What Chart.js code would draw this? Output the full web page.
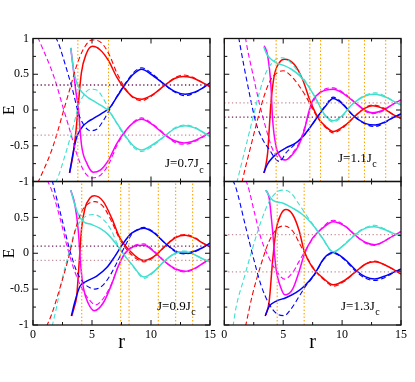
<!DOCTYPE html>
<html>
<head>
<meta charset="utf-8">
<script src="https://cdn.jsdelivr.net/npm/chart.js@4.4.1/dist/chart.umd.min.js"></script>
<style>
  body { margin: 0; background: #fff; }
  canvas { position: absolute; left: 0; top: 0; }
</style>
</head>
<body>
<canvas id="c1" width="415" height="382"></canvas>
<canvas id="c2" width="415" height="382"></canvas>
<canvas id="c3" width="415" height="382"></canvas>
<canvas id="c4" width="415" height="382"></canvas>
<script>
// ---- data: [r, E] ----
// J = 0.7 Jc
const p1RedSolid = [[3.1,-0.88],[3.4,-0.62],[3.65,-0.28],[3.85,0.1],[4.1,0.52],[4.5,0.78],[5.05,0.89],[5.7,0.84],[6.4,0.69],[7.1,0.46],[7.8,0.29],[8.5,0.18],[9.2,0.15],[10,0.2],[11.2,0.35],[12,0.44],[12.7,0.47],[13.5,0.45],[14.3,0.39],[15,0.33]];
const p1BlueSolid = [[3.1,-0.88],[3.4,-0.6],[3.6,-0.44],[3.8,-0.34],[4.2,-0.23],[4.7,-0.16],[5.1,-0.12],[5.8,-0.05],[6.5,0.03],[7.1,0.18],[7.9,0.38],[8.5,0.5],[9.2,0.57],[10,0.5],[11.2,0.35],[12,0.26],[12.9,0.22],[13.7,0.25],[14.4,0.31],[15,0.38]];
const p1MagentaSolid = [[3.2,0.87],[3.42,0.57],[3.6,0.3],[3.84,0.03],[4.12,-0.5],[4.55,-0.74],[5.1,-0.87],[5.7,-0.84],[6.4,-0.7],[7.1,-0.47],[7.8,-0.3],[8.5,-0.18],[9.2,-0.13],[10,-0.19],[11.2,-0.35],[12,-0.43],[12.8,-0.46],[13.5,-0.44],[14.3,-0.38],[15,-0.31]];
const p1CyanSolid = [[3.2,0.87],[3.42,0.58],[3.6,0.44],[3.8,0.34],[4.2,0.24],[4.7,0.17],[5.1,0.13],[5.8,0.06],[6.5,-0.03],[7.1,-0.18],[7.9,-0.38],[8.5,-0.5],[9.2,-0.56],[10,-0.5],[11.2,-0.36],[12,-0.26],[12.9,-0.22],[13.7,-0.25],[14.4,-0.31],[15,-0.37]];
const p1RedDash = [[0.4,-1.02],[1,-0.8],[1.5,-0.6],[2,-0.35],[2.5,-0.06],[3.1,0.28],[3.7,0.62],[4.3,0.86],[5,0.98],[5.8,0.94],[6.5,0.76],[7.1,0.52],[7.8,0.31],[8.5,0.17],[9.2,0.13],[10,0.19],[11.2,0.35],[12,0.45],[12.7,0.49],[13.5,0.46],[14.3,0.39],[15,0.32]];
const p1MagentaDash = [[0.4,1.02],[1,0.79],[1.5,0.59],[2,0.35],[2.5,0.06],[3.1,-0.27],[3.7,-0.61],[4.3,-0.85],[5,-0.95],[5.8,-0.9],[6.5,-0.73],[7.1,-0.5],[7.8,-0.31],[8.5,-0.17],[9.2,-0.11],[10,-0.18],[11.2,-0.34],[12,-0.45],[12.8,-0.48],[13.6,-0.45],[14.3,-0.39],[15,-0.31]];
const p1BlueDash = [[1.9,1.02],[2.14,0.94],[2.85,0.57],[3.42,0.24],[3.84,-0.04],[4.27,-0.2],[4.85,-0.29],[5.4,-0.27],[5.96,-0.15],[6.47,0],[7.1,0.19],[7.9,0.39],[8.5,0.52],[9.2,0.59],[10,0.52],[11.2,0.35],[12,0.25],[12.9,0.2],[13.7,0.24],[14.4,0.31],[15,0.38]];
const p1CyanDash = [[1.9,-1.02],[2.14,-0.93],[2.85,-0.56],[3.42,-0.23],[3.84,0.05],[4.27,0.2],[4.85,0.29],[5.4,0.28],[5.96,0.16],[6.47,0],[7.1,-0.19],[7.9,-0.39],[8.5,-0.52],[9.2,-0.58],[10,-0.52],[11.2,-0.36],[12,-0.25],[12.9,-0.21],[13.7,-0.24],[14.4,-0.31],[15,-0.37]];
const p1Levels = [0.35, -0.35];
const p1Marks = [3.8, 6.4];

// J = 1.1 Jc
const p2RedSolid = [[3.39,-0.88],[3.68,-0.6],[3.8,-0.3],[3.96,0.1],[4.24,0.48],[4.66,0.66],[5.1,0.71],[5.93,0.64],[6.64,0.43],[7.35,0.1],[8.05,-0.13],[8.6,-0.23],[9.24,-0.3],[10.2,-0.22],[11.2,-0.07],[12,0.03],[12.6,0.06],[13.5,0.02],[14.3,-0.06],[15,-0.12]];
const p2BlueSolid = [[3.34,-0.88],[3.6,-0.78],[3.81,-0.72],[4.38,-0.62],[5.23,-0.53],[6.08,-0.46],[6.92,-0.32],[7.77,-0.13],[8.62,0.06],[9.24,0.16],[10,0.09],[10.9,-0.07],[12,-0.19],[12.8,-0.21],[13.6,-0.17],[14.4,-0.1],[15,-0.06]];
const p2MagentaSolid = [[3.39,0.9],[3.68,0.76],[3.96,0.34],[4.1,-0.13],[4.38,-0.5],[4.8,-0.67],[5.17,-0.7],[5.8,-0.62],[6.3,-0.5],[6.8,-0.28],[7.1,-0.07],[7.5,0.13],[8.2,0.25],[9.24,0.29],[10.2,0.22],[11.2,0.09],[12,-0.01],[12.6,-0.04],[13.5,0],[14.3,0.08],[15,0.14]];
const p2CyanSolid = [[3.35,0.88],[3.6,0.78],[3.9,0.72],[4.4,0.66],[5.1,0.62],[5.7,0.57],[6.4,0.48],[7.1,0.34],[7.8,0.15],[8.5,-0.06],[9.24,-0.15],[10,-0.08],[10.8,0.07],[12,0.2],[12.8,0.22],[13.7,0.18],[14.4,0.12],[15,0.07]];
const p2RedDash = [[1.5,-1.02],[1.56,-0.97],[2.26,-0.5],[2.83,-0.13],[3.39,0.2],[3.96,0.43],[4.5,0.52],[5,0.55],[5.65,0.48],[6.3,0.35],[7,0.17],[7.6,-0.02],[8.2,-0.17],[8.7,-0.26],[9.24,-0.32],[10.2,-0.23],[11.2,-0.07],[12,0.04],[12.6,0.07],[13.5,0.03],[14.3,-0.06],[15,-0.12]];
const p2BlueDash = [[1.22,1.02],[1.27,0.97],[2.12,0.24],[2.69,-0.18],[3.25,-0.41],[3.81,-0.55],[4.38,-0.69],[4.7,-0.72],[5.23,-0.6],[6,-0.48],[6.92,-0.33],[7.77,-0.13],[8.62,0.07],[9.24,0.18],[10,0.1],[10.9,-0.07],[12,-0.2],[12.8,-0.23],[13.6,-0.18],[14.4,-0.1],[15,-0.05]];
const p2MagentaDash = [[1.8,1.02],[1.84,0.97],[2.4,0.52],[2.97,0.1],[3.56,-0.27],[4.1,-0.55],[4.8,-0.69],[5.2,-0.7],[5.8,-0.6],[6.4,-0.44],[7,-0.15],[7.5,0.1],[8.2,0.26],[9.24,0.31],[10.2,0.23],[11.2,0.09],[12,-0.02],[12.6,-0.05],[13.5,-0.01],[14.3,0.08],[15,0.14]];
const p2CyanDash = [[1.05,-1.02],[1.13,-0.97],[1.84,-0.5],[2.4,-0.13],[2.97,0.24],[3.53,0.52],[4.24,0.69],[4.95,0.73],[5.6,0.67],[6.3,0.53],[7.1,0.35],[7.8,0.15],[8.5,-0.07],[9.24,-0.17],[10,-0.09],[10.8,0.07],[12,0.21],[12.8,0.24],[13.7,0.19],[14.4,0.12],[15,0.07]];
const p2Levels = [0.1, -0.1];
const p2Marks = [4.4, 7.26, 8.17, 10.57, 11.9, 13.7];

// J = 0.9 Jc
const p3RedSolid = [[3.28,-0.875],[3.5,-0.75],[3.7,-0.6],[3.92,-0.11],[4.12,0.35],[4.41,0.63],[4.83,0.77],[5.2,0.8],[5.96,0.72],[6.67,0.49],[7.37,0.21],[8.22,0.03],[8.93,-0.07],[9.4,-0.1],[10.2,-0.05],[11.2,0.1],[12.1,0.22],[12.9,0.25],[13.7,0.21],[14.4,0.14],[15,0.09]];
const p3BlueSolid = [[3.25,-0.875],[3.56,-0.67],[3.98,-0.46],[4.55,-0.39],[5.4,-0.32],[6.25,-0.2],[6.95,-0.04],[7.65,0.14],[8.36,0.28],[9.07,0.34],[9.4,0.35],[10.2,0.29],[11.2,0.14],[12.1,0.03],[12.9,0],[13.7,0.03],[14.4,0.08],[15,0.14]];
const p3MagentaSolid = [[3.2,0.88],[3.56,0.67],[3.84,0.31],[4.04,-0.16],[4.27,-0.48],[4.69,-0.7],[5.2,-0.8],[5.96,-0.69],[6.67,-0.43],[7.23,-0.18],[7.8,0],[8.5,0.09],[9.4,0.11],[10.2,0.03],[11.2,-0.12],[12.1,-0.22],[12.9,-0.25],[13.7,-0.21],[14.4,-0.14],[15,-0.08]];
const p3CyanSolid = [[3.2,0.88],[3.5,0.7],[3.84,0.54],[4.27,0.44],[4.97,0.4],[5.65,0.35],[6.38,0.26],[7.09,0.12],[7.8,-0.04],[8.5,-0.18],[9.07,-0.3],[9.4,-0.33],[10.2,-0.26],[11.2,-0.1],[12.1,0],[12.9,0.02],[13.7,-0.02],[14.4,-0.08],[15,-0.12]];
const p3RedDash = [[1.15,-1.02],[1.58,-0.85],[2.29,-0.48],[3,-0.07],[3.56,0.31],[4.12,0.58],[4.69,0.69],[5.25,0.72],[5.96,0.65],[6.67,0.44],[7.37,0.19],[8.22,0],[9,-0.1],[9.4,-0.12],[10.2,-0.06],[11.2,0.1],[12.1,0.23],[12.9,0.26],[13.7,0.22],[14.4,0.14],[15,0.09]];
const p3BlueDash = [[1.62,1.02],[1.86,0.86],[2.57,0.4],[3.14,0.03],[3.7,-0.25],[4.27,-0.41],[4.83,-0.48],[5.25,-0.5],[5.96,-0.44],[6.67,-0.27],[7.23,-0.09],[7.8,0.1],[8.4,0.27],[9.07,0.35],[9.4,0.36],[10.2,0.3],[11.2,0.14],[12.1,0.02],[12.9,-0.01],[13.7,0.02],[14.4,0.08],[15,0.14]];
const p3MagentaDash = [[1.2,1.02],[1.58,0.88],[2.29,0.49],[2.85,0.12],[3.42,-0.2],[4.12,-0.48],[4.83,-0.66],[5.3,-0.72],[6,-0.62],[6.67,-0.42],[7.23,-0.18],[7.8,0],[8.5,0.1],[9.4,0.13],[10.2,0.04],[11.2,-0.12],[12.1,-0.23],[12.9,-0.26],[13.7,-0.22],[14.4,-0.14],[15,-0.08]];
const p3CyanDash = [[1.62,-1.02],[2,-0.75],[2.43,-0.39],[3,-0.02],[3.56,0.31],[4.27,0.49],[5.11,0.54],[5.96,0.47],[6.67,0.31],[7.09,0.15],[7.8,-0.04],[8.5,-0.19],[9.07,-0.31],[9.4,-0.35],[10.2,-0.27],[11.2,-0.1],[12.1,0.01],[12.9,0.03],[13.7,-0.02],[14.4,-0.08],[15,-0.12]];
const p3Levels = [0.1, -0.1];
const p3Marks = [4.13, 7.43, 8.14, 10.62, 12.09, 13.53];

// J = 1.3 Jc
const p4RedSolid = [[3.53,-0.86],[3.81,-0.67],[4.1,-0.11],[4.38,0.31],[4.8,0.54],[5.23,0.61],[5.8,0.54],[6.36,0.31],[6.78,0.03],[7.49,-0.2],[8.34,-0.34],[9.24,-0.44],[10.2,-0.38],[11.2,-0.25],[12,-0.15],[12.77,-0.12],[13.6,-0.16],[14.3,-0.22],[15,-0.29]];
const p4BlueSolid = [[3.47,-0.875],[3.81,-0.74],[4.38,-0.67],[5.23,-0.62],[6.08,-0.55],[6.78,-0.46],[7.63,-0.3],[8.47,-0.07],[9.24,0.01],[10.2,-0.08],[11.2,-0.24],[12,-0.33],[12.77,-0.36],[13.6,-0.32],[14.3,-0.27],[15,-0.22]];
const p4MagentaSolid = [[3.53,0.88],[3.81,0.77],[4.1,0.31],[4.38,-0.2],[4.8,-0.48],[5.17,-0.58],[5.8,-0.5],[6.36,-0.25],[6.78,-0.02],[7.49,0.21],[8.34,0.35],[9.24,0.44],[10.2,0.38],[11.2,0.24],[12,0.15],[12.77,0.12],[13.6,0.17],[14.3,0.24],[15,0.3]];
const p4CyanSolid = [[3.53,0.88],[3.81,0.8],[4.1,0.74],[4.95,0.7],[5.8,0.63],[6.64,0.54],[7.49,0.4],[8.34,0.21],[9.24,0.02],[10.2,0.12],[11.2,0.27],[12,0.35],[12.77,0.37],[13.6,0.33],[14.3,0.28],[15,0.24]];
const p4RedDash = [[1.8,-1.02],[2.4,-0.57],[3.11,-0.16],[3.81,0.17],[4.52,0.35],[5.08,0.38],[5.8,0.31],[6.5,0.1],[7.2,-0.11],[7.9,-0.28],[8.6,-0.39],[9.24,-0.46],[10.2,-0.39],[11.2,-0.25],[12,-0.15],[12.77,-0.11],[13.6,-0.16],[14.3,-0.22],[15,-0.29]];
const p4BlueDash = [[0.72,1.02],[0.99,0.91],[1.84,0.35],[2.4,-0.02],[3.11,-0.44],[3.81,-0.71],[4.52,-0.85],[5.08,-0.87],[5.65,-0.78],[6.36,-0.6],[6.9,-0.46],[7.63,-0.31],[8.47,-0.08],[9.24,0],[10.2,-0.09],[11.2,-0.26],[12,-0.35],[12.77,-0.38],[13.6,-0.34],[14.3,-0.28],[15,-0.22]];
const p4MagentaDash = [[1.8,1.02],[1.98,0.95],[2.54,0.58],[3.11,0.21],[3.81,-0.07],[4.52,-0.27],[5.1,-0.36],[5.8,-0.27],[6.36,-0.11],[6.92,0.05],[7.5,0.2],[8.34,0.36],[9.24,0.46],[10.2,0.39],[11.2,0.24],[12,0.14],[12.77,0.11],[13.6,0.17],[14.3,0.24],[15,0.3]];
const p4CyanDash = [[0.74,-1.02],[0.99,-0.76],[1.69,-0.34],[2.4,0.07],[3.11,0.44],[3.81,0.72],[4.52,0.86],[5.08,0.88],[5.65,0.84],[6.36,0.68],[6.92,0.54],[7.49,0.41],[8.34,0.21],[9.24,0.01],[10.2,0.13],[11.2,0.28],[12,0.36],[12.77,0.39],[13.6,0.34],[14.3,0.28],[15,0.24]];
const p4Levels = [0.26, -0.26];
const p4Marks = [4.49, 6.78];

const xTicks = [0, 5, 10, 15];
const yTicks = [-1, -0.5, 0, 0.5, 1];

// ---- styling ----
const SERIF = "'Liberation Serif', 'Times New Roman', serif";
const RED = '#ff0000', BLUE = '#0000ff', CYAN = '#40e0d0', MAGENTA = '#ff00ff';
const DARK_DOT = '#70205e', LIGHT_DOT = '#c8909a', ORANGE = '#ffa500';

function curve(pts, color, dashed) {
    return {
        data: pts.map(function(p) { return { x: p[0], y: p[1] }; }),
        borderColor: color,
        borderWidth: dashed ? 1.1 : 1.5,
        borderDash: dashed ? [5, 3] : [],
        pointRadius: 0,
        cubicInterpolationMode: 'monotone',
        fill: false
    };
}

function level(e, color) {
    return {
        data: [{ x: 0, y: e }, { x: 15, y: e }],
        borderColor: color, borderWidth: 1.3, borderDash: [1.3, 2.5],
        pointRadius: 0, tension: 0
    };
}

function mark(r) {
    return {
        data: [{ x: r, y: -1 }, { x: r, y: 1 }],
        borderColor: ORANGE, borderWidth: 1.1, borderDash: [1.5, 2],
        pointRadius: 0, tension: 0
    };
}

// frame, inward ticks and the J label
const framePlugin = {
    id: 'frame',
    afterDraw: function(chart, args, opts) {
        const ctx = chart.ctx, a = chart.chartArea;
        const x = chart.scales.x, y = chart.scales.y;
        ctx.save();
        ctx.strokeStyle = '#111';
        ctx.lineWidth = 1;
        ctx.beginPath();
        x.ticks.forEach(function(t) {
            const px = x.getPixelForValue(t.value);
            const len = xTicks.indexOf(t.value) >= 0 ? 5 : 3;
            ctx.moveTo(px, a.bottom); ctx.lineTo(px, a.bottom - len);
            ctx.moveTo(px, a.top); ctx.lineTo(px, a.top + len);
        });
        y.ticks.forEach(function(t) {
            const py = y.getPixelForValue(t.value);
            const len = yTicks.indexOf(t.value) >= 0 ? 5 : 3;
            ctx.moveTo(a.left, py); ctx.lineTo(a.left + len, py);
            ctx.moveTo(a.right, py); ctx.lineTo(a.right - len, py);
        });
        ctx.stroke();
        ctx.lineWidth = 1.3;
        ctx.strokeRect(a.left, a.top, a.right - a.left, a.bottom - a.top);

        ctx.fillStyle = '#000';
        ctx.textBaseline = 'alphabetic';
        ctx.font = '13px ' + SERIF;
        ctx.fillText(opts.text, opts.tx, opts.ty);
        const w = ctx.measureText(opts.text).width;
        ctx.font = '10px ' + SERIF;
        ctx.fillText('c', opts.tx + w + 0.5, opts.ty + 5.5);
        ctx.restore();
    }
};

function makePanel(id, area, curves, levels, levelColors, marks, showX, showY, hideTopY, label) {
    const yW = showY ? 33 : 0;
    const xH = showX ? 30 : 0;
    const datasets = [];
    marks.forEach(function(r) { datasets.push(mark(r)); });
    levels.forEach(function(e, i) { datasets.push(level(e, levelColors[i])); });
    curves.forEach(function(c) { datasets.push(c); });

    new Chart(document.getElementById(id), {
        type: 'line',
        data: { datasets: datasets },
        options: {
            responsive: false,
            animation: false,
            devicePixelRatio: 1,
            layout: {
                padding: {
                    left: area.left - yW,
                    top: area.top,
                    right: 415 - area.right,
                    bottom: 382 - area.bottom - xH
                }
            },
            plugins: {
                legend: { display: false },
                tooltip: { enabled: false },
                frame: label
            },
            scales: {
                x: {
                    type: 'linear', min: 0, max: 15,
                    afterFit: function(s) { s.height = xH; },
                    grid: { display: false, drawTicks: false },
                    border: { display: false },
                    ticks: {
                        display: showX, stepSize: 2.5, autoSkip: false, maxRotation: 0, padding: 3,
                        color: '#000', font: { family: SERIF, size: 12 },
                        callback: function(v) { return xTicks.indexOf(v) >= 0 ? String(v) : ''; }
                    },
                    title: {
                        display: showX, text: 'r', color: '#000', padding: 0,
                        font: { family: SERIF, size: 20 }
                    }
                },
                y: {
                    type: 'linear', min: -1, max: 1,
                    afterFit: function(s) { s.width = yW; },
                    grid: { display: false, drawTicks: false },
                    border: { display: false },
                    ticks: {
                        display: showY, stepSize: 0.25, autoSkip: false, padding: 4,
                        color: '#000', font: { family: SERIF, size: 12 },
                        callback: function(v) {
                            if (hideTopY && v === 1) return '';
                            return yTicks.indexOf(v) >= 0 ? String(v) : '';
                        }
                    },
                    title: {
                        display: showY, text: 'E', color: '#000', padding: 0,
                        font: { family: SERIF, size: 16 }
                    }
                }
            }
        },
        plugins: [framePlugin]
    });
}

document.addEventListener('DOMContentLoaded', function() {
    // J=0.7Jc (top left)
    makePanel('c1', { left: 33, top: 38.5, right: 210, bottom: 181.5 },
        [curve(p1RedDash, RED, true), curve(p1BlueDash, BLUE, true), curve(p1CyanDash, CYAN, true), curve(p1MagentaDash, MAGENTA, true),
         curve(p1CyanSolid, CYAN, false), curve(p1MagentaSolid, MAGENTA, false), curve(p1BlueSolid, BLUE, false), curve(p1RedSolid, RED, false)],
        p1Levels, [DARK_DOT, LIGHT_DOT], p1Marks, false, true, false,
        { text: 'J=0.7J', tx: 165, ty: 167 });

    // J=1.1Jc (top right)
    makePanel('c2', { left: 224.3, top: 38.5, right: 401, bottom: 181.5 },
        [curve(p2RedDash, RED, true), curve(p2BlueDash, BLUE, true), curve(p2CyanDash, CYAN, true), curve(p2MagentaDash, MAGENTA, true),
         curve(p2CyanSolid, CYAN, false), curve(p2MagentaSolid, MAGENTA, false), curve(p2BlueSolid, BLUE, false), curve(p2RedSolid, RED, false)],
        p2Levels, [LIGHT_DOT, DARK_DOT], p2Marks, false, false, false,
        { text: 'J=1.1J', tx: 338, ty: 161.5 });

    // J=0.9Jc (bottom left)
    makePanel('c3', { left: 33, top: 181.5, right: 210, bottom: 325 },
        [curve(p3RedDash, RED, true), curve(p3BlueDash, BLUE, true), curve(p3CyanDash, CYAN, true), curve(p3MagentaDash, MAGENTA, true),
         curve(p3CyanSolid, CYAN, false), curve(p3MagentaSolid, MAGENTA, false), curve(p3BlueSolid, BLUE, false), curve(p3RedSolid, RED, false)],
        p3Levels, [DARK_DOT, LIGHT_DOT], p3Marks, true, true, true,
        { text: 'J=0.9J', tx: 157, ty: 309.5 });

    // J=1.3Jc (bottom right)
    makePanel('c4', { left: 224.3, top: 181.5, right: 401, bottom: 325 },
        [curve(p4RedDash, RED, true), curve(p4BlueDash, BLUE, true), curve(p4CyanDash, CYAN, true), curve(p4MagentaDash, MAGENTA, true),
         curve(p4CyanSolid, CYAN, false), curve(p4MagentaSolid, MAGENTA, false), curve(p4BlueSolid, BLUE, false), curve(p4RedSolid, RED, false)],
        p4Levels, [LIGHT_DOT, LIGHT_DOT], p4Marks, true, false, false,
        { text: 'J=1.3J', tx: 341, ty: 309.5 });
});
</script>
</body>
</html>
